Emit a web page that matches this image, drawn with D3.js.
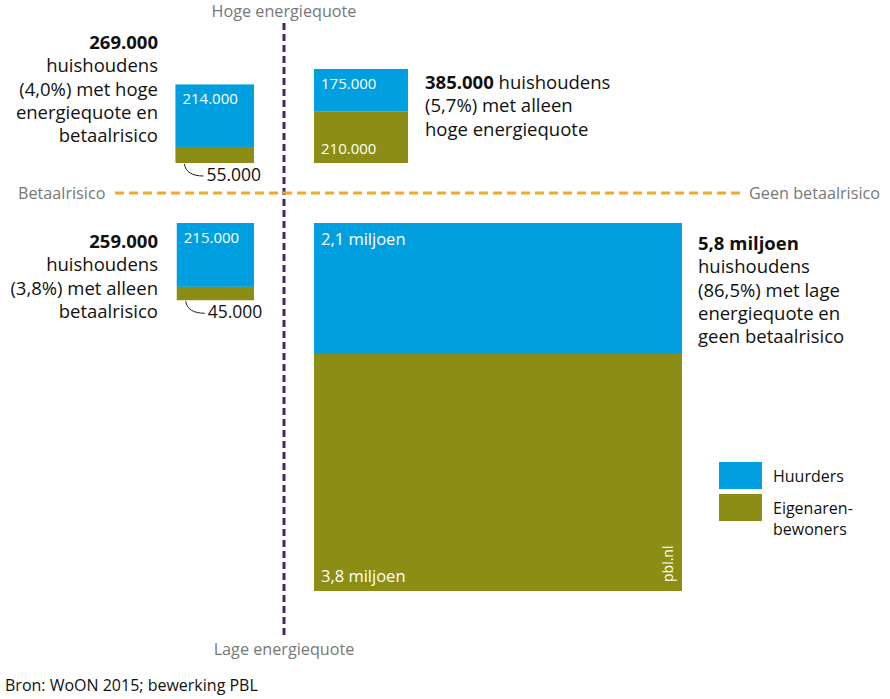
<!DOCTYPE html>
<html><head><meta charset="utf-8">
<script src="https://cdn.jsdelivr.net/npm/d3@7"></script>
<style>
body{margin:0;background:#fff;}
text{font-family:"Open Sans",sans-serif;}
</style></head>
<body><svg id="c" width="890" height="699"></svg>
<script>
// ---- data ----
const quadrants = ["hoog_risico","hoog_geen","laag_risico","laag_geen"];
const huurders   = [214000, 175000, 215000, 2100000];
const eigenaren  = [55000, 210000, 45000, 3800000];
const huurLabels = ["214.000","175.000","215.000","2,1 miljoen"];
const eigLabels  = ["55.000","210.000","45.000","3,8 miljoen"];
const totalLabels = ["269.000","385.000","259.000","5,8 miljoen"];
const descLines = [
  ["huishoudens","(4,0%) met hoge","energiequote en","betaalrisico"],
  [" huishoudens","(5,7%) met alleen","hoge energiequote"],
  ["huishoudens","(3,8%) met alleen","betaalrisico"],
  ["huishoudens","(86,5%) met lage","energiequote en","geen betaalrisico"]
];
const axisLabels = {top:"Hoge energiequote", bottom:"Lage energiequote", left:"Betaalrisico", right:"Geen betaalrisico"};
const legendLabels = [["Huurders"],["Eigenaren-","bewoners"]];
const source = "Bron: WoON 2015; bewerking PBL";

const colHuur = "#009fe0", colEig = "#8c8d14";
const svg = d3.select("#c");
const cx = 284, cy = 193, gap = 30;
const side = d3.scaleSqrt().domain([0, 5900000]).range([0, 368]);

// axes lines
svg.append("line").attr("x1",cx).attr("x2",cx).attr("y1",23).attr("y2",637)
  .attr("stroke","#4a2360").attr("stroke-width",3).attr("stroke-dasharray","7,4");
svg.append("line").attr("x1",115).attr("x2",742).attr("y1",cy).attr("y2",cy)
  .attr("stroke","#f0a92b").attr("stroke-width",3).attr("stroke-dasharray","9,5");

const gray="#777", afs=16.2;
svg.append("text").attr("x",cx).attr("y",17).attr("text-anchor","middle").attr("fill",gray).attr("font-size",afs).text(axisLabels.top);
svg.append("text").attr("x",cx).attr("y",655).attr("text-anchor","middle").attr("fill",gray).attr("font-size",afs).text(axisLabels.bottom);
svg.append("text").attr("x",18).attr("y",cy+5.5).attr("fill",gray).attr("font-size",afs).text(axisLabels.left);
svg.append("text").attr("x",880).attr("y",cy+5.5).attr("text-anchor","end").attr("fill",gray).attr("font-size",afs).text(axisLabels.right);

// boxes
const boxes = quadrants.map((q,i)=>{
  const tot = huurders[i]+eigenaren[i];
  const s = side(tot);
  const hH = s*huurders[i]/tot;
  const left = (i%2===0);
  const top = (i<2);
  const x = left ? cx-gap-s : cx+gap;
  const y = top ? cy-gap-s : cy+gap;
  return {q,i,s,hH,x,y};
});
const g = svg.append("g");
g.selectAll("rect.h").data(boxes).join("rect").attr("class","h")
  .attr("x",d=>d.x).attr("y",d=>d.y).attr("width",d=>d.s).attr("height",d=>d.hH).attr("fill",colHuur);
g.selectAll("rect.e").data(boxes).join("rect").attr("class","e")
  .attr("x",d=>d.x).attr("y",d=>d.y+d.hH).attr("width",d=>d.s).attr("height",d=>d.s-d.hH).attr("fill",colEig);

// huurder labels inside
g.selectAll("text.hl").data(boxes).join("text").attr("class","hl")
  .attr("x",d=>d.x+7).attr("y",d=>d.y+ (d.i===3?22:20)).attr("fill","#fff")
  .attr("font-size",d=>d.i===3?16.5:15).text(d=>huurLabels[d.i]);

// eigenaren labels
boxes.forEach(d=>{
  if (d.i===1 || d.i===3){
    g.append("text").attr("x",d.x+7).attr("y",d.y+d.s-9).attr("fill","#fff")
      .attr("font-size",d.i===3?16.5:15).text(eigLabels[d.i]);
  } else {
    const sx = d.x+9, sy = d.y+d.s+1;
    g.append("path").attr("d",`M${sx},${sy} C${sx+1},${sy+8} ${sx+8},${sy+12} ${sx+19},${sy+12}`)
      .attr("fill","none").attr("stroke","#222").attr("stroke-width",1);
    g.append("text").attr("x",sx+22).attr("y",sy+17).attr("fill","#111").attr("font-size",17.5).text(eigLabels[d.i]);
  }
});

// annotations
const lh = 23.3, fs = 18.5;
function block(x, y, anchor, bold, lines, inlineFirst){
  const t = svg.append("text").attr("text-anchor",anchor).attr("font-size",fs).attr("fill","#111");
  if (inlineFirst){
    const l0 = t.append("tspan").attr("x",x).attr("y",y);
    l0.append("tspan").attr("font-weight","bold").text(bold);
    l0.append("tspan").text(lines[0]);
    lines.slice(1).forEach((l,k)=>t.append("tspan").attr("x",x).attr("y",y+lh*(k+1)).text(l));
  } else {
    t.append("tspan").attr("x",x).attr("y",y).attr("font-weight","bold").text(bold);
    lines.forEach((l,k)=>t.append("tspan").attr("x",x).attr("y",y+lh*(k+1)).text(l));
  }
}
block(158, 49, "end", totalLabels[0], descLines[0], false);
block(425, 89, "start", totalLabels[1], descLines[1], true);
block(158, 248, "end", totalLabels[2], descLines[2], false);
block(698, 250, "start", totalLabels[3], descLines[3], false);

// pbl.nl
const big = boxes[3];
svg.append("text").attr("transform",`translate(${big.x+big.s-9},${big.y+big.s-9}) rotate(-90)`)
  .attr("fill","#fff").attr("font-size",14).text("pbl.nl");

// legend
const lg = svg.append("g");
[colHuur,colEig].forEach((c,k)=>{
  lg.append("rect").attr("x",719).attr("y",462+k*32).attr("width",43).attr("height",27).attr("fill",c);
  legendLabels[k].forEach((l,j)=>lg.append("text").attr("x",773).attr("y",482+k*32+j*21).attr("font-size",16).attr("fill","#111").text(l));
});

svg.append("text").attr("x",5).attr("y",691).attr("font-size",16).attr("fill","#111").text(source);
</script></body></html>
